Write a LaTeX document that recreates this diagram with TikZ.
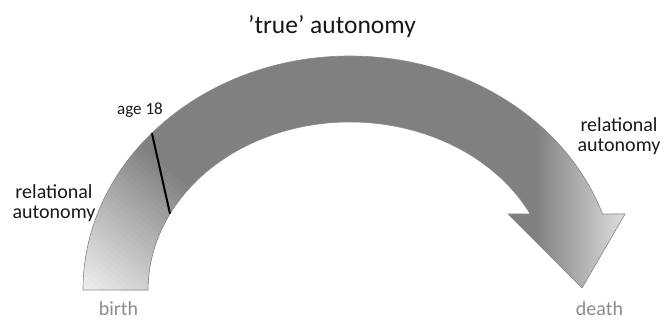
\documentclass[tikz,border=0pt]{standalone}
\usepackage{fontspec}
\setmainfont{Carlito}
\definecolor{bandG}{RGB}{128,128,128}
\definecolor{tailL}{RGB}{244,244,244}
\definecolor{txtK}{RGB}{24,24,24}
\definecolor{txtL}{RGB}{140,140,140}
\newcommand\bandpath{(83,30) arc[start angle=180,end angle=18.95,x radius=267,y radius=234] -- (625,106) -- (582,32) -- (508,106) -- (530.2,106) arc[start angle=26.9,end angle=180,x radius=202,y radius=168] -- cycle}

\begin{document}
\begin{tikzpicture}[x=1pt,y=1pt,lbl/.style={txtK,font=\fontsize{20}{20}\selectfont,align=center,inner sep=0pt}]
\useasboundingbox (0,0) rectangle (666,320);
\coordinate (ctr) at (350,30);
\fill[bandG] \bandpath;
\begin{scope}
\clip \bandpath;
\shade[left color=bandG,right color=gray!22] (535,0) rectangle (630,240);
\begin{scope}[shift={(83,30)},rotate=50]
\foreach \k [evaluate=\k as \p using \k*100/31] in {0,...,31}
  \fill[bandG!\p!tailL] (\k*5-8,-130) rectangle (\k*5-2.5,130);
\end{scope}
\end{scope}
\draw[black!45,line width=0.6pt] \bandpath;
\coordinate (o18) at ([shift={(137.9:267 and 234)}]ctr);
\coordinate (i18) at ([shift={(153:202 and 168)}]ctr);
\draw[black,line width=2pt] (o18) -- (i18);
\node[txtK,font=\fontsize{25.5}{30}\selectfont,anchor=base,inner sep=0pt] (ttl) at (332,286) {'true' autonomy};
\node[lbl,anchor=base west,font=\fontsize{17}{17}\selectfont] (age) at (117,205) {age 18};
\node[lbl,anchor=base] (relL) at (54,101.7) {relational\\autonomy};
\node[lbl,anchor=base] (relR) at (619,168) {relational\\autonomy};
\node[lbl,txtL,anchor=base] (brth) at (118.5,4.5) {birth};
\node[lbl,txtL,anchor=base] (dth) at (599.5,4.5) {death};
\end{tikzpicture}
\end{document}
